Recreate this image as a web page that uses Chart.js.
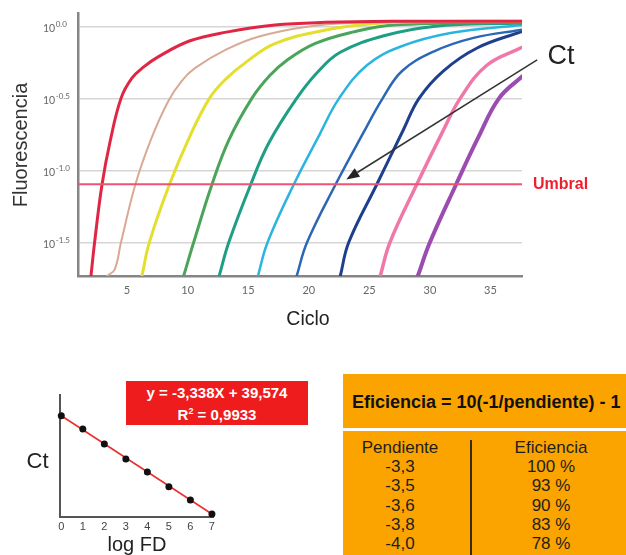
<!DOCTYPE html>
<html lang="es">
<head>
<meta charset="utf-8">
<title>Curvas de amplificación qPCR</title>
<script src="https://cdn.jsdelivr.net/npm/chart.js@4.4.1/dist/chart.umd.min.js"></script>
<style>
  body { margin: 0; width: 626px; height: 555px; position: relative; overflow: hidden; background: #fff;
         font-family: "Liberation Sans", Arial, sans-serif; }
  .caja { position: absolute; }
  #amplif { left: 0; top: 0; width: 626px; height: 335px; }
  #estandar { left: 0; top: 370px; width: 330px; height: 185px; }
  #ecuacion { left: 126px; top: 381px; width: 182px; height: 42px; padding-top: 2px; background: #ee1c1c;
              color: #fff; font-weight: bold; font-size: 15px; line-height: 19.4px; text-align: center; }
  #formula { left: 343px; top: 374px; width: 283px; height: 54px; background: #fba400; color: #111;
             font-weight: bold; font-size: 18px; line-height: 57px; padding-left: 9px; box-sizing: border-box;
             white-space: nowrap; }
  #tabla { left: 343px; top: 431px; width: 283px; height: 124px; background: #fba400; }
  .col { position: absolute; top: 7px; text-align: center; font-size: 17px; line-height: 19.2px; color: #1e1e1e; }
  #colP { left: 0; width: 114px; }
  #colE { left: 128px; width: 160px; }
  #divisor { position: absolute; left: 126.7px; top: 9px; width: 2px; height: 120px; background: #3b2a05; }
</style>
</head>
<body>
<div class="caja" id="amplif"><canvas id="graficoAmplif"></canvas></div>
<div class="caja" id="estandar"><canvas id="graficoEstandar"></canvas></div>
<div class="caja" id="ecuacion"></div>
<div class="caja" id="formula">Eficiencia = 10(-1/pendiente) - 1</div>
<div class="caja" id="tabla">
  <div class="col" id="colP"></div>
  <div id="divisor"></div>
  <div class="col" id="colE"></div>
</div>
<script>
// Curvas de amplificación (ciclo, log10 de fluorescencia)
const cicloRojo = [2.02, 2.32, 2.93, 3.6, 4.5, 5.4, 6.4, 7.6, 10.2, 13.2, 17.2, 21.4, 27, 37.6];
const logRojo = [-1.734, -1.5, -1.10, -0.80, -0.5, -0.36, -0.28, -0.21, -0.10, -0.04, 0.01, 0.028, 0.035, 0.035];
const cicloMarron = [3.34, 3.97, 4.50, 5.68, 7.0, 8.4, 9.5, 10.6, 13.2, 15.9, 20.0, 24.1, 30, 37.6];
const logMarron = [-1.734, -1.69, -1.5, -1.10, -0.78, -0.52, -0.38, -0.29, -0.16, -0.07, 0.0, 0.025, 0.033, 0.035];
const cicloAmarillo = [6.23, 6.84, 8.49, 10.2, 11.8, 13.1, 14.8, 17.2, 21.4, 25.5, 30, 37.6];
const logAmarillo = [-1.734, -1.5, -1.10, -0.76, -0.5, -0.37, -0.25, -0.12, -0.025, 0.02, 0.033, 0.035];
const cicloVerde = [9.67, 10.5, 12.0, 13.4, 15.3, 16.8, 18.2, 20.5, 23.6, 27, 37.6];
const logVerde = [-1.734, -1.5, -1.10, -0.79, -0.5, -0.34, -0.235, -0.12, -0.04, 0.01, 0.03];
const cicloTurquesa = [12.6, 13.4, 15.2, 16.7, 19.0, 20.7, 22.6, 26.2, 30.3, 37.6];
const logTurquesa = [-1.734, -1.5, -1.10, -0.81, -0.5, -0.32, -0.18, -0.065, 0.0, 0.023];
const cicloCeleste = [15.8, 16.6, 18.75, 20.9, 22.5, 24.8, 27.6, 31.7, 37.6];
const logCeleste = [-1.734, -1.5, -1.10, -0.75, -0.5, -0.27, -0.14, -0.046, 0.01];
const cicloAzul = [19.0, 19.86, 22.2, 24.5, 26.1, 27.7, 30.3, 33.6, 37.6];
const logAzul = [-1.734, -1.5, -1.10, -0.74, -0.5, -0.31, -0.175, -0.08, -0.023];
const cicloMarino = [22.6, 23.3, 25.6, 27.8, 29.1, 31.1, 33.9, 37.6];
const logMarino = [-1.734, -1.5, -1.10, -0.72, -0.5, -0.31, -0.15, -0.035];
const cicloRosa = [25.9, 26.7, 28.9, 31.0, 32.5, 34.7, 37.6];
const logRosa = [-1.734, -1.5, -1.10, -0.74, -0.5, -0.27, -0.146];
const cicloMorado = [29.0, 30.0, 32.15, 34.0, 35.7, 37.6];
const logMorado = [-1.734, -1.5, -1.10, -0.77, -0.5, -0.348];

const ticksCiclo = [5, 10, 15, 20, 25, 30, 35];
const exponentes = [0, -0.5, -1.0, -1.5];
const etiquetasExp = ['0.0', '-0.5', '-1.0', '-1.5'];
const umbral = -1.0975;

// flecha que señala el Ct (cola, punta)
const flechaCiclo = [38.85, 23.1];
const flechaLog = [-0.232, -1.063];

// Curva estándar
const logFD = [0, 1, 2, 3, 4, 5, 6, 7];
const ctMedidos = [39.57, 36.41, 32.85, 29.28, 26.19, 22.70, 19.54, 16.2];
const pendiente = -3.338;
const intercepto = 39.574;
const r2 = 0.9933;

// Tabla pendiente / eficiencia
const pendientes = [-3.3, -3.5, -3.6, -3.8, -4.0];
const eficiencias = [100, 93, 90, 83, 78];

const coma = (v, d) => v.toFixed(d).replace('.', ',');

const curvas = [
  [cicloRojo, logRojo, '#df2745', 3],
  [cicloMarron, logMarron, '#d8aa96', 2],
  [cicloAmarillo, logAmarillo, '#e3df2c', 3],
  [cicloVerde, logVerde, '#4aa55a', 3],
  [cicloTurquesa, logTurquesa, '#1f9e86', 3],
  [cicloCeleste, logCeleste, '#2cb4e0', 2.5],
  [cicloAzul, logAzul, '#2c67b6', 2.5],
  [cicloMarino, logMarino, '#1e3f8e', 3],
  [cicloRosa, logRosa, '#ef78a8', 3.5],
  [cicloMorado, logMorado, '#9b4cb0', 4]
];

const datasets = [{
  data: [{ x: 0.95, y: umbral }, { x: 37.6, y: umbral }],
  borderColor: '#ec5474',
  borderWidth: 2,
  tension: 0
}];
curvas.forEach(([cx, cy, color, ancho]) => {
  datasets.push({
    data: cx.map((c, i) => ({ x: c, y: cy[i] })),
    borderColor: color,
    borderWidth: ancho
  });
});

const rotulosAmplif = {
  id: 'rotulosAmplif',
  afterDraw(chart) {
    const { ctx, scales: { x, y } } = chart;
    ctx.save();
    // etiquetas del eje Y como potencias de 10
    ctx.textAlign = 'left';
    ctx.textBaseline = 'middle';
    exponentes.forEach((e, i) => {
      const py = y.getPixelForValue(e);
      ctx.fillStyle = '#666';
      ctx.font = '10.5px Lato';
      ctx.fillText('10', 43, py + 2);
      const w = ctx.measureText('10').width;
      ctx.font = '8px Lato';
      ctx.fillText(etiquetasExp[i], 43 + w + 0.5, py - 2);
    });

    ctx.fillStyle = '#333';
    ctx.font = '20px "Liberation Sans"';
    ctx.textAlign = 'center';
    ctx.save();
    ctx.translate(21, 145);
    ctx.rotate(-Math.PI / 2);
    ctx.fillText('Fluorescencia', 0, 0);
    ctx.restore();

    ctx.fillStyle = '#222';
    ctx.font = '19.5px "Liberation Sans"';
    ctx.fillText('Ciclo', 308, 320);

    ctx.fillStyle = '#f01e2c';
    ctx.font = 'bold 16px "Liberation Sans"';
    ctx.textAlign = 'left';
    ctx.fillText('Umbral', 533, y.getPixelForValue(umbral));

    ctx.fillStyle = '#222';
    ctx.font = '27px "Liberation Sans"';
    ctx.textAlign = 'center';
    ctx.fillText('Ct', 561, 57);

    // flecha hacia el cruce con el umbral
    const x0 = x.getPixelForValue(flechaCiclo[0]), y0 = y.getPixelForValue(flechaLog[0]);
    const x1 = x.getPixelForValue(flechaCiclo[1]), y1 = y.getPixelForValue(flechaLog[1]);
    const ang = Math.atan2(y1 - y0, x1 - x0);
    const largo = 13, medio = 5;
    const bx = x1 - largo * Math.cos(ang), by = y1 - largo * Math.sin(ang);
    ctx.strokeStyle = '#333';
    ctx.lineWidth = 1.5;
    ctx.beginPath();
    ctx.moveTo(x0, y0);
    ctx.lineTo(bx, by);
    ctx.stroke();
    ctx.fillStyle = '#222';
    ctx.beginPath();
    ctx.moveTo(x1, y1);
    ctx.lineTo(bx + medio * Math.sin(ang), by - medio * Math.cos(ang));
    ctx.lineTo(bx - medio * Math.sin(ang), by + medio * Math.cos(ang));
    ctx.closePath();
    ctx.fill();
    ctx.restore();
  }
};

new Chart(document.getElementById('graficoAmplif'), {
  type: 'line',
  data: { datasets },
  options: {
    responsive: true,
    maintainAspectRatio: false,
    animation: false,
    layout: { padding: { left: 0, top: 13, right: 104, bottom: 0 } },
    plugins: { legend: { display: false }, tooltip: { enabled: false } },
    elements: {
      point: { radius: 0 },
      line: { tension: 0.4, borderCapStyle: 'round', borderJoinStyle: 'round' }
    },
    scales: {
      x: {
        type: 'linear',
        min: 0.95,
        max: 37.6,
        afterBuildTicks: s => { s.ticks = ticksCiclo.map(v => ({ value: v })); },
        afterFit: s => { s.height = 59; },
        grid: { display: false, drawTicks: false },
        border: { color: '#858585', width: 2.5 },
        ticks: { color: '#666', font: { family: 'Lato', size: 11 }, padding: 8 }
      },
      y: {
        type: 'linear',
        min: -1.734,
        max: 0.093,
        afterBuildTicks: s => { s.ticks = exponentes.map(v => ({ value: v })); },
        afterFit: s => { s.width = 78; },
        grid: { color: '#d6d6d6', lineWidth: 1.5, drawTicks: false },
        border: { color: '#858585', width: 2.5 },
        ticks: { display: false }
      }
    }
  },
  plugins: [rotulosAmplif]
});

// Curva estándar Ct frente a log FD
const rotulosEstandar = {
  id: 'rotulosEstandar',
  afterDraw(chart) {
    const { ctx } = chart;
    ctx.save();
    ctx.fillStyle = '#222';
    ctx.textAlign = 'center';
    ctx.textBaseline = 'middle';
    ctx.font = '22px "Liberation Sans"';
    ctx.fillText('Ct', 37.5, 91.7);
    ctx.font = '20px "Liberation Sans"';
    ctx.fillText('log FD', 137, 175);
    ctx.restore();
  }
};

new Chart(document.getElementById('graficoEstandar'), {
  type: 'line',
  data: {
    datasets: [
      {
        data: logFD.map((v, i) => ({ x: v, y: ctMedidos[i] })),
        showLine: false,
        pointRadius: 3.5,
        pointBackgroundColor: '#111',
        pointBorderWidth: 0,
        clip: false
      },
      {
        data: [0, 7].map(v => ({ x: v, y: intercepto + pendiente * v })),
        borderColor: '#e8302e',
        borderWidth: 1.6,
        pointRadius: 0
      }
    ]
  },
  options: {
    responsive: true,
    maintainAspectRatio: false,
    animation: false,
    layout: { padding: { left: 0, top: 25, right: 117, bottom: 0 } },
    plugins: { legend: { display: false }, tooltip: { enabled: false } },
    scales: {
      x: {
        type: 'linear',
        min: -0.06,
        max: 7.05,
        afterBuildTicks: s => { s.ticks = logFD.map(v => ({ value: v })); },
        afterFit: s => { s.height = 38; },
        grid: { display: false, drawTicks: false },
        border: { color: '#555', width: 2 },
        ticks: { color: '#444', font: { family: 'Liberation Sans', size: 11 }, padding: 3 }
      },
      y: {
        type: 'linear',
        min: 15.5,
        max: 44.5,
        afterFit: s => { s.width = 60; },
        grid: { display: false, drawTicks: false },
        border: { color: '#555', width: 2 },
        ticks: { display: false }
      }
    }
  },
  plugins: [rotulosEstandar]
});

document.getElementById('ecuacion').innerHTML =
  `y = ${coma(pendiente, 3)}X + ${coma(intercepto, 3)}<br>R<sup style="font-size:9px">2</sup> = ${coma(r2, 4)}`;
document.getElementById('colP').innerHTML =
  ['Pendiente', ...pendientes.map(p => coma(p, 1))].join('<br>');
document.getElementById('colE').innerHTML =
  ['Eficiencia', ...eficiencias.map(e => `${e} %`)].join('<br>');
</script>
</body>
</html>
